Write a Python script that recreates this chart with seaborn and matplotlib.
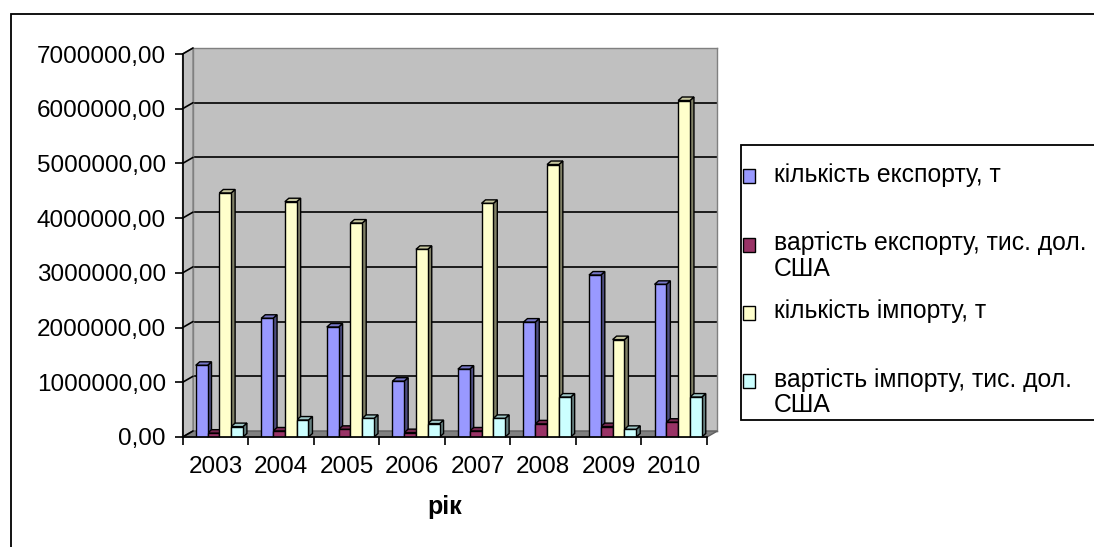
"""Export / import bar chart (Excel-style pseudo 3D)"""

import matplotlib

matplotlib.use("Agg")
from matplotlib import pyplot as plt
from matplotlib.legend_handler import HandlerPatch
from matplotlib.lines import Line2D
from matplotlib.patches import Patch, Polygon, Rectangle
from matplotlib.ticker import FixedLocator, FuncFormatter
from matplotlib.transforms import IdentityTransform
import matplotlib.colors as mcolors
import numpy as np
import pandas as pd
import seaborn as sns

years = ["2003", "2004", "2005", "2006", "2007", "2008", "2009", "2010"]
series = [
    "кількість експорту, т",
    "вартість експорту, тис. дол. США",
    "кількість імпорту, т",
    "вартість імпорту, тис. дол. США",
]
# Excel wraps the long names; short ones get an empty 2nd line so slots are even
legend_labels = [
    "кількість експорту, т\n ",
    "вартість експорту, тис. дол.\nСША",
    "кількість імпорту, т\n ",
    "вартість імпорту, тис. дол.\nСША",
]
export_qty = [1310000, 2170000, 2010000, 1020000, 1240000, 2100000, 2960000, 2790000]
export_val = [70000, 110000, 140000, 80000, 110000, 240000, 190000, 270000]
import_qty = [4460000, 4300000, 3910000, 3430000, 4270000, 4980000, 1780000, 6150000]
import_val = [190000, 310000, 340000, 245000, 340000, 730000, 140000, 730000]
colors = ["#9999FF", "#993366", "#FFFFCC", "#CCFFFF"]
y_ticks = [0, 1000000, 2000000, 3000000, 4000000, 5000000, 6000000, 7000000]

W, H = 1094, 547
DEPTH = (10.4, 6.0)  # wall depth in px
BAR_DEPTH = (4.0, 3.5)
LEG_FONT = 17.8
LEG_LINESPACING = 1.1


def fx(x):
    return x / W


def fy(y):
    return 1 - y / H


def make_df():
    df = pd.DataFrame(
        {
            "рік": years,
            series[0]: export_qty,
            series[1]: export_val,
            series[2]: import_qty,
            series[3]: import_val,
        }
    )
    return df.melt(id_vars="рік", var_name="series", value_name="value")


def shade(c, k):
    return tuple(np.array(mcolors.to_rgb(c)) * k)


def first_line_patch(legend, orig_handle, xdescent, ydescent, width, height, fontsize):
    # put the marker next to the first text line, like Excel does
    shift = 0.45 * fontsize * LEG_LINESPACING
    return Rectangle((-xdescent, -ydescent + shift), width, height)


def main():
    sns.set_theme(style="white")
    plt.rcParams["font.family"] = ["Liberation Sans", "DejaVu Sans"]
    plt.rcParams["text.color"] = "black"
    plt.rcParams["axes.labelcolor"] = "black"
    plt.rcParams["xtick.color"] = "black"
    plt.rcParams["ytick.color"] = "black"

    df = make_df()
    fig = plt.figure(figsize=(W / 100, H / 100), dpi=100)

    # front axes (data), back wall axes behind it
    x0, x1, y_top, y_bot = 182.6, 707.0, 54.0, 437.0
    ax = fig.add_axes(
        [fx(x0), fy(y_bot), (x1 - x0) / W, (y_bot - y_top) / H], zorder=2
    )
    ax_back = fig.add_axes(
        [
            fx(x0 + DEPTH[0]),
            fy(y_bot - DEPTH[1]),
            (x1 - x0) / W,
            (y_bot - y_top) / H,
        ],
        zorder=0,
    )
    ylim = (0, y_ticks[-1])
    xlim = (-0.5, len(years) - 0.5)

    ax_back.set_facecolor("#C0C0C0")
    ax_back.set_ylim(ylim)
    ax_back.set_xlim(xlim)
    ax_back.set_xticks([])
    ax_back.set_yticks([])
    for s in ax_back.spines.values():
        s.set_color("#808080")
        s.set_linewidth(1.0)
    for v in y_ticks[1:-1]:
        ax_back.axhline(v, color="black", lw=1.2, zorder=1)

    sns.barplot(
        data=df,
        x="рік",
        y="value",
        hue="series",
        hue_order=series,
        palette=colors,
        saturation=1,
        width=0.72,
        edgecolor="black",
        linewidth=1.0,
        legend=False,
        ax=ax,
    )
    ax.set_facecolor("none")
    ax.set_ylim(ylim)
    ax.set_xlim(xlim)

    # pseudo 3D faces on each bar
    dx, dy = BAR_DEPTH
    for p in list(ax.patches):
        p.set_x(p.get_x() + 0.06)
        bx0, by0 = ax.transData.transform((p.get_x(), 0))
        bx1, by1 = ax.transData.transform((p.get_x() + p.get_width(), p.get_height()))
        fc = p.get_facecolor()
        side = Polygon(
            [(bx1, by0), (bx1 + dx, by0 + dy), (bx1 + dx, by1 + dy), (bx1, by1)],
            closed=True,
            facecolor=shade(fc, 0.5),
            edgecolor="black",
            linewidth=1.0,
            transform=IdentityTransform(),
            zorder=0.9,
            clip_on=False,
        )
        top = Polygon(
            [(bx0, by1), (bx0 + dx, by1 + dy), (bx1 + dx, by1 + dy), (bx1, by1)],
            closed=True,
            facecolor=shade(fc, 0.78),
            edgecolor="black",
            linewidth=1.0,
            transform=IdentityTransform(),
            zorder=0.9,
            clip_on=False,
        )
        ax.add_patch(side)
        ax.add_patch(top)

    # side wall and floor
    wx, wy = DEPTH
    fl0 = ax.transData.transform((xlim[0], 0))
    fl1 = ax.transData.transform((xlim[1], 0))
    tl = ax.transData.transform((xlim[0], ylim[1]))
    side_wall = Polygon(
        [fl0, tl, (tl[0] + wx, tl[1] + wy), (fl0[0] + wx, fl0[1] + wy)],
        facecolor="#C0C0C0",
        edgecolor="#808080",
        linewidth=1.0,
        transform=IdentityTransform(),
        zorder=1,
    )
    floor = Polygon(
        [fl0, fl1, (fl1[0] + wx, fl1[1] + wy), (fl0[0] + wx, fl0[1] + wy)],
        facecolor="#808080",
        edgecolor="#606060",
        linewidth=1.0,
        transform=IdentityTransform(),
        zorder=1,
    )
    fig.add_artist(side_wall)
    fig.add_artist(floor)
    for v in y_ticks:
        px, py = ax.transData.transform((xlim[0], v))
        fig.add_artist(
            Line2D(
                [px, px + wx],
                [py, py + wy],
                color="black",
                lw=1.2,
                transform=IdentityTransform(),
                zorder=1.1,
            )
        )

    # axes styling
    for name in ["top", "right"]:
        ax.spines[name].set_visible(False)
    for name in ["left", "bottom"]:
        ax.spines[name].set_color("black")
        ax.spines[name].set_linewidth(1.2)
    ax.set_yticks(y_ticks)
    ax.yaxis.set_major_formatter(
        FuncFormatter(lambda v, _: f"{v:.2f}".replace(".", ","))
    )
    ax.xaxis.set_minor_locator(FixedLocator(np.arange(-0.5, len(years), 1.0)))
    ax.tick_params(axis="y", length=6, width=1.2, color="black", pad=6,
                   labelsize=17.5, left=True, direction="out")
    ax.tick_params(axis="x", which="major", length=0, pad=14, labelsize=17.5)
    ax.tick_params(axis="x", which="minor", length=6, width=1.2, color="black",
                   bottom=True, direction="out")
    ax.set_ylabel("")
    ax.set_xlabel("рік", fontsize=18, fontweight="bold", labelpad=12)

    # outer chart frame and legend box
    fig.add_artist(
        Rectangle((fx(11), fy(600)), (1150 - 11) / W, (600 - 14) / H,
                  fill=False, edgecolor="black", linewidth=1.3,
                  transform=fig.transFigure)
    )
    fig.add_artist(
        Rectangle((fx(740.7), fy(420)), (1150 - 740.7) / W, (420 - 145) / H,
                  facecolor="white", edgecolor="black", linewidth=1.3,
                  transform=fig.transFigure)
    )
    handles = [Patch(facecolor=c, edgecolor="black", linewidth=1.0) for c in colors]
    leg = fig.legend(
        handles,
        legend_labels,
        loc="upper left",
        bbox_to_anchor=(fx(743), fy(163)),
        bbox_transform=fig.transFigure,
        frameon=False,
        borderpad=0,
        borderaxespad=0,
        handlelength=0.5,
        handleheight=0.5,
        handletextpad=0.75,
        labelspacing=0.74,
        fontsize=LEG_FONT,
        handler_map={Patch: HandlerPatch(patch_func=first_line_patch)},
    )
    for t in leg.get_texts():
        t.set_linespacing(LEG_LINESPACING)

    fig.savefig("out.png", dpi=100)


if __name__ == "__main__":
    main()
